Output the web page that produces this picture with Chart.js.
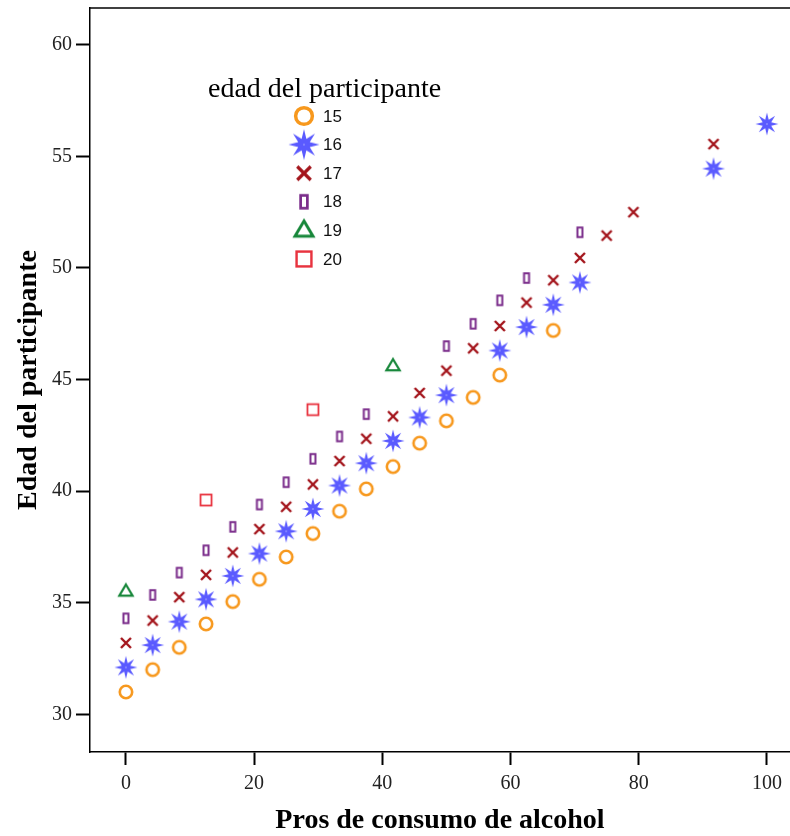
<!DOCTYPE html>
<html>
<head>
<meta charset="utf-8">
<script src="https://cdn.jsdelivr.net/npm/chart.js@4.4.1/dist/chart.umd.min.js"></script>
<style>
  html, body { margin: 0; padding: 0; background: #fff; }
  #wrap { width: 790px; height: 836px; }
</style>
</head>
<body>
<div id="wrap"><canvas id="chart" width="790" height="836"></canvas></div>
<script>
// edad del participante: 15..20
const groups = ["15", "16", "17", "18", "19", "20"];
const xTicks = [0, 20, 40, 60, 80, 100];
const yTicks = [30, 35, 40, 45, 50, 55, 60];

const edad15X = [0, 4.17, 8.33, 12.5, 16.67, 20.83, 25, 29.17, 33.33, 37.5, 41.67, 45.83, 50, 54.17, 58.33, 66.67];
const edad15Y = [31.0, 32.0, 33.0, 34.05, 35.05, 36.05, 37.05, 38.1, 39.1, 40.1, 41.1, 42.15, 43.15, 44.2, 45.2, 47.2];

const edad16X = [0, 4.17, 8.33, 12.5, 16.67, 20.83, 25, 29.17, 33.33, 37.5, 41.67, 45.83, 50, 58.33, 62.5, 66.67, 70.83, 91.67, 100];
const edad16Y = [32.1, 33.1, 34.15, 35.15, 36.2, 37.2, 38.2, 39.2, 40.25, 41.25, 42.25, 43.3, 44.3, 46.3, 47.35, 48.35, 49.35, 54.45, 56.45];

const edad17X = [0, 4.17, 8.33, 12.5, 16.67, 20.83, 25, 29.17, 33.33, 37.5, 41.67, 45.83, 50, 54.17, 58.33, 62.5, 66.67, 70.83, 75, 79.17, 91.67];
const edad17Y = [33.2, 34.2, 35.25, 36.25, 37.25, 38.3, 39.3, 40.3, 41.35, 42.35, 43.35, 44.4, 45.4, 46.4, 47.4, 48.45, 49.45, 50.45, 51.45, 52.5, 55.55];

const edad18X = [0, 4.17, 8.33, 12.5, 16.67, 20.83, 25, 29.17, 33.33, 37.5, 50, 54.17, 58.33, 62.5, 70.83];
const edad18Y = [34.3, 35.35, 36.35, 37.35, 38.4, 39.4, 40.4, 41.45, 42.45, 43.45, 46.5, 47.5, 48.55, 49.55, 51.6];

const edad19X = [0, 41.67];
const edad19Y = [35.5, 45.6];

const edad20X = [12.5, 29.17];
const edad20Y = [39.6, 43.65];

const colors = ["#f7981d", "#5a5aff", "#a3141b", "#7b2d8b", "#17873a", "#e8333f"];

// marker images
function makeMarker(kind, color, k) {
    const s = Math.ceil(26 * k);
    const c = document.createElement("canvas");
    c.width = s; c.height = s;
    const g = c.getContext("2d");
    const m = s / 2;
    g.strokeStyle = color;
    g.fillStyle = color;
    if (kind === "circle") {
        g.lineWidth = 2.6 * k;
        g.beginPath(); g.arc(m, m, 6.2 * k, 0, Math.PI * 2); g.stroke();
    } else if (kind === "star") {
        const ro = 11.5 * k, ri = 4.6 * k;
        g.beginPath();
        for (let i = 0; i < 16; i++) {
            const r = i % 2 ? ri : ro;
            const a = -Math.PI / 2 + i * Math.PI / 8;
            const px = m + r * Math.cos(a), py = m + r * Math.sin(a);
            if (i === 0) g.moveTo(px, py); else g.lineTo(px, py);
        }
        g.closePath(); g.fill();
        g.fillStyle = "#c8c8ff";
        g.fillRect(m - 0.6, m - 0.6, 1.2, 1.2);
    } else if (kind === "cross") {
        const r = 5 * k;
        g.lineWidth = 2.4 * k;
        g.beginPath();
        g.moveTo(m - r, m - r); g.lineTo(m + r, m + r);
        g.moveTo(m + r, m - r); g.lineTo(m - r, m + r);
        g.stroke();
    } else if (kind === "bar") {
        const w = 5 * k, h = 9.5 * k;
        g.lineWidth = 2 * k;
        g.strokeRect(m - w / 2, m - h / 2, w, h);
    } else if (kind === "triangle") {
        const r = 7 * k;
        g.lineWidth = 2.2 * k;
        g.beginPath();
        g.moveTo(m, m - r);
        g.lineTo(m + r * 0.95, m + r * 0.6);
        g.lineTo(m - r * 0.95, m + r * 0.6);
        g.closePath(); g.stroke();
    } else if (kind === "square") {
        const r = 5.5 * k;
        g.lineWidth = 1.8 * k;
        g.strokeRect(m - r, m - r, 2 * r, 2 * r);
    }
    return c;
}

const kinds = ["circle", "star", "cross", "bar", "triangle", "square"];
const plotMarkers = kinds.map((k, i) => makeMarker(k, colors[i], 1));
const legendMarkers = kinds.map((k, i) => makeMarker(k, colors[i], 1.35));

function pts(xs, ys) {
    return xs.map((x, i) => ({ x: x, y: ys[i] }));
}

const seriesX = [edad15X, edad16X, edad17X, edad18X, edad19X, edad20X];
const seriesY = [edad15Y, edad16Y, edad17Y, edad18Y, edad19Y, edad20Y];

const datasets = groups.map((g, i) => ({
    label: g,
    data: pts(seriesX[i], seriesY[i]),
    pointStyle: plotMarkers[i],
    borderColor: colors[i],
    backgroundColor: colors[i],
    pointRadius: 6,
    pointHoverRadius: 6,
    showLine: false
}));

const serif = "'Liberation Serif', 'Times New Roman', serif";
const sans = "'Liberation Sans', Arial, sans-serif";

function noPad(s) {
    s.paddingTop = 0; s.paddingBottom = 0; s.paddingLeft = 0; s.paddingRight = 0;
}

// top border + legend inside the plot
const extras = {
    id: "extras",
    afterDraw(chart) {
        const ctx = chart.ctx;
        const a = chart.chartArea;
        ctx.save();
        ctx.strokeStyle = "#000";
        ctx.lineWidth = 1.5;
        ctx.beginPath();
        ctx.moveTo(a.left, a.top);
        ctx.lineTo(a.right, a.top);
        ctx.stroke();

        ctx.fillStyle = "#000";
        ctx.font = "28px " + serif;
        ctx.textBaseline = "middle";
        ctx.textAlign = "left";
        ctx.fillText("edad del participante", 208, 90);
        ctx.font = "17px " + sans;
        groups.forEach((g, i) => {
            const y = 116 + i * 28.6;
            const img = legendMarkers[i];
            ctx.drawImage(img, 304 - img.width / 2, y - img.height / 2);
            ctx.fillStyle = "#111";
            ctx.fillText(g, 323, y + 1);
        });
        ctx.restore();
    }
};

new Chart(document.getElementById("chart"), {
    type: "scatter",
    data: { datasets: datasets },
    options: {
        responsive: false,
        animation: false,
        layout: { autoPadding: false, padding: { top: 8, right: 0, left: 0, bottom: 0 } },
        plugins: {
            legend: { display: false },
            tooltip: { enabled: false }
        },
        scales: {
            x: {
                type: "linear",
                min: -5.6,
                max: 103.6,
                afterBuildTicks(s) { s.ticks = xTicks.map(v => ({ value: v })); },
                afterFit(s) { s.height = 84; noPad(s); },
                grid: { drawOnChartArea: false, drawTicks: true, tickLength: 13, tickWidth: 2, tickColor: "#000" },
                border: { display: true, color: "#000", width: 1.5 },
                ticks: { color: "#222", padding: 7, font: { family: serif, size: 20 } },
                title: {
                    display: true,
                    text: "Pros de consumo de alcohol",
                    color: "#000",
                    font: { family: serif, size: 28, weight: "bold" },
                    padding: { top: 0, bottom: -2 }
                }
            },
            y: {
                type: "linear",
                min: 28.31,
                max: 61.65,
                afterBuildTicks(s) { s.ticks = yTicks.map(v => ({ value: v })); },
                afterFit(s) { s.width = 90; noPad(s); },
                grid: { drawOnChartArea: false, drawTicks: true, tickLength: 14, tickWidth: 2, tickColor: "#000" },
                border: { display: true, color: "#000", width: 1.5 },
                ticks: { color: "#222", padding: 4, font: { family: serif, size: 20 } },
                title: {
                    display: true,
                    text: "Edad del participante",
                    color: "#000",
                    font: { family: serif, size: 28, weight: "bold" },
                    padding: { top: 12, bottom: 0 }
                }
            }
        }
    },
    plugins: [extras]
});
</script>
</body>
</html>
